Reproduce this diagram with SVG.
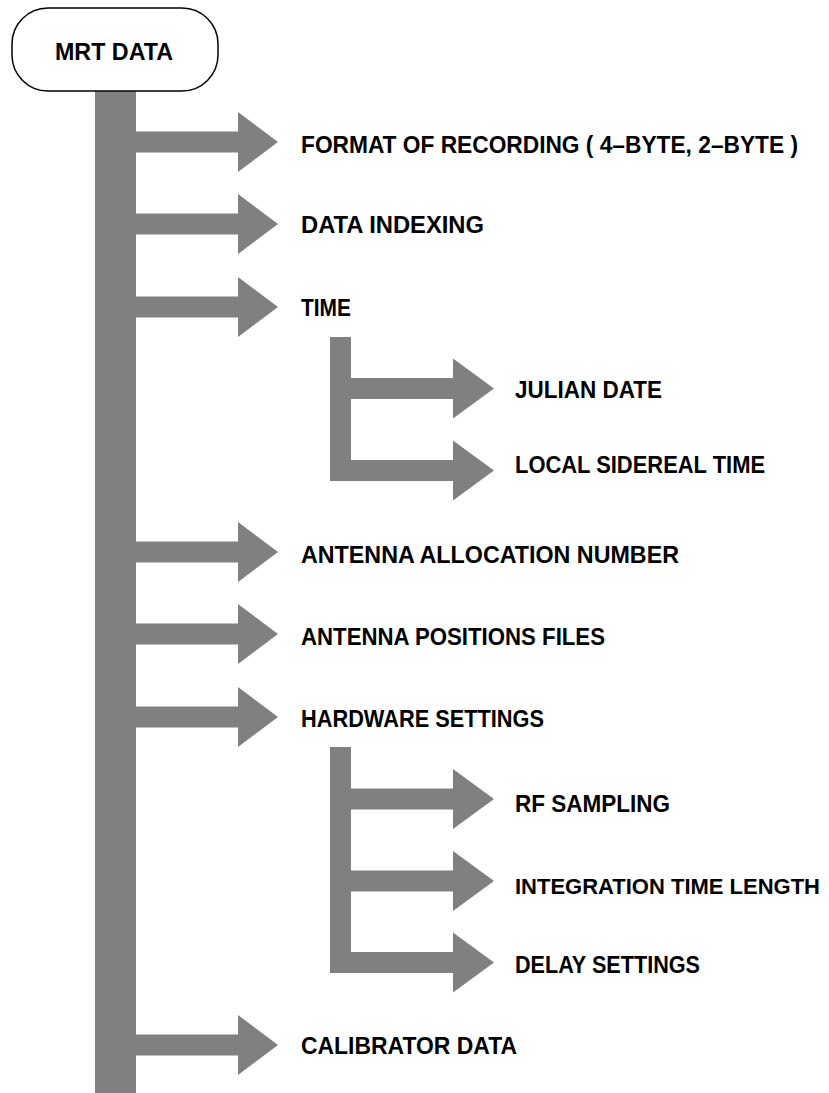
<svg xmlns="http://www.w3.org/2000/svg" width="829" height="1093" viewBox="0 0 829 1093">
<style>
.bar{fill:#808080;stroke:none}
.lbl{font-family:"Liberation Sans",Arial,sans-serif;font-weight:bold;font-size:23px;fill:#000}
</style>
<rect width="829" height="1093" fill="#fff"/>
<g id="connectors">
<rect class="bar" x="95" y="91" width="41" height="1002"/>
<path class="bar" d="M136,131.5H238V112L278,142L238,172V152.5H136Z"/>
<path class="bar" d="M136,213.5H238V194L278,224L238,254V234.5H136Z"/>
<path class="bar" d="M136,296.5H238V277L278,307L238,337V317.5H136Z"/>
<path class="bar" d="M136,541.5H238V522L278,552L238,582V562.5H136Z"/>
<path class="bar" d="M136,623.5H238V604L278,634L238,664V644.5H136Z"/>
<path class="bar" d="M136,706.5H238V687L278,717L238,747V727.5H136Z"/>
<path class="bar" d="M136,1034.5H238V1015L278,1045L238,1075V1055.5H136Z"/>
<rect class="bar" x="330" y="337" width="21" height="144"/>
<path class="bar" d="M351,378H453V358.5L494,388.5L453,418.5V399H351Z"/>
<path class="bar" d="M351,460H453V440.5L494,470.5L453,500.5V481H351Z"/>
<rect class="bar" x="330" y="747" width="21" height="226"/>
<path class="bar" d="M351,788.5H453V769L494,799L453,829V809.5H351Z"/>
<path class="bar" d="M351,870.5H453V851L494,881L453,911V891.5H351Z"/>
<path class="bar" d="M351,952H453V932.5L494,962.5L453,992.5V973H351Z"/>
</g>
<g id="node-mrt">
<rect x="12" y="8" width="206" height="83" rx="36" ry="36" fill="#fff" stroke="#000" stroke-width="1.5"/>
<text class="lbl" x="55" y="60" textLength="118" lengthAdjust="spacingAndGlyphs">MRT DATA</text>
</g>
<g id="node-format"><text class="lbl" x="301" y="153" textLength="497" lengthAdjust="spacingAndGlyphs">FORMAT OF RECORDING ( 4–BYTE, 2–BYTE )</text></g>
<g id="node-indexing"><text class="lbl" x="301" y="233" textLength="183" lengthAdjust="spacingAndGlyphs">DATA INDEXING</text></g>
<g id="node-time"><text class="lbl" x="301" y="316" textLength="50" lengthAdjust="spacingAndGlyphs">TIME</text></g>
<g id="node-julian"><text class="lbl" x="515" y="398" textLength="147" lengthAdjust="spacingAndGlyphs">JULIAN DATE</text></g>
<g id="node-lst"><text class="lbl" x="515" y="473" textLength="250" lengthAdjust="spacingAndGlyphs">LOCAL SIDEREAL TIME</text></g>
<g id="node-alloc"><text class="lbl" x="301" y="563" textLength="378" lengthAdjust="spacingAndGlyphs">ANTENNA ALLOCATION NUMBER</text></g>
<g id="node-positions"><text class="lbl" x="301" y="645" textLength="304" lengthAdjust="spacingAndGlyphs">ANTENNA POSITIONS FILES</text></g>
<g id="node-hardware"><text class="lbl" x="301" y="727" textLength="243" lengthAdjust="spacingAndGlyphs">HARDWARE SETTINGS</text></g>
<g id="node-rf"><text class="lbl" x="515" y="812" textLength="155" lengthAdjust="spacingAndGlyphs">RF SAMPLING</text></g>
<g id="node-integration"><text class="lbl" x="515" y="894" style="font-size:22px" textLength="305" lengthAdjust="spacingAndGlyphs">INTEGRATION TIME LENGTH</text></g>
<g id="node-delay"><text class="lbl" x="515" y="973" textLength="185" lengthAdjust="spacingAndGlyphs">DELAY SETTINGS</text></g>
<g id="node-calibrator"><text class="lbl" x="301" y="1054" textLength="216" lengthAdjust="spacingAndGlyphs">CALIBRATOR DATA</text></g>
</svg>
